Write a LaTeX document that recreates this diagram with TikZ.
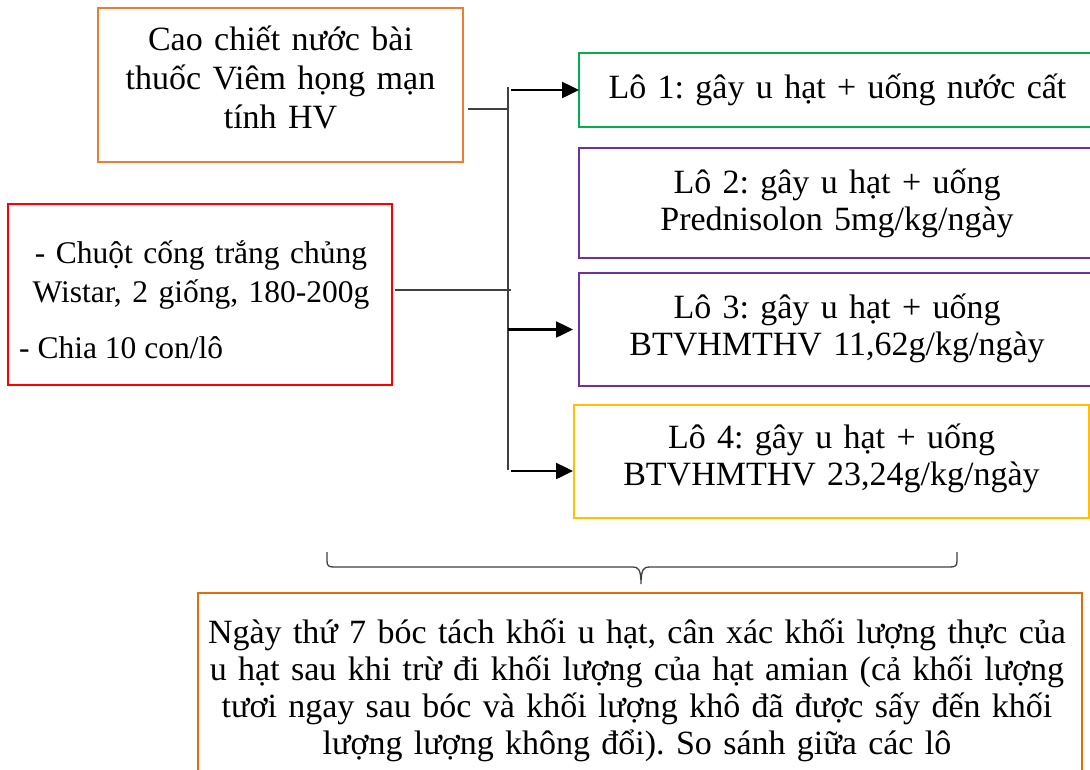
\documentclass[tikz,border=0pt]{standalone}
\usepackage{fontspec}
\setmainfont{Liberation Serif}
\usetikzlibrary{arrows.meta}

\definecolor{srcorange}{HTML}{ED7D31}
\definecolor{ratred}{HTML}{FF0000}
\definecolor{grpgreen}{HTML}{00B050}
\definecolor{grppurple}{HTML}{7030A0}
\definecolor{grpgold}{HTML}{FFC000}
\definecolor{endorange}{HTML}{E26B0A}
\definecolor{wire}{HTML}{404040}

\tikzset{
  frame/.style={draw, line width=1.4pt, inner sep=0pt, outer sep=0pt},
  txt/.style={inner sep=0pt, anchor=base, align=center,
              font=\fontsize{34}{37}\selectfont},
  wireline/.style={draw=wire, line width=1.3pt},
  arr/.style={draw=black, line width=2.5pt,
              -{Triangle[length=17pt, width=16pt]}},
}

\begin{document}
\frenchspacing
\begin{tikzpicture}[x=1pt, y=-1pt]
\useasboundingbox (0,0) rectangle (1090,769);
\fill[white] (0,0) rectangle (1090,769);
\clip (0,0) rectangle (1090,769);

% source boxes on the left
\node[frame, draw=srcorange, minimum width=365pt, minimum height=154pt] (cao) at (280.5,85) {};
\node[txt, text width=360pt, font=\fontsize{34}{39}\selectfont] (caotext) at (280.5,50)
  {Cao chiết nước bài\\thuốc Viêm họng mạn\\tính HV};

\node[frame, draw=ratred, minimum width=384pt, minimum height=181pt] (rat) at (200,294.5) {};
\node[txt, text width=380pt, font=\fontsize{31.5}{39}\selectfont] (rattext) at (201,263)
  {- Chuột cống trắng chủng\\Wistar, 2 giống, 180-200g};
\node[txt, anchor=base west, font=\fontsize{31.5}{39}\selectfont] (ratlot) at (19,358)
  {- Chia 10 con/lô};

% the four groups
\node[frame, draw=grpgreen, minimum width=517pt, minimum height=74pt] (lo1) at (837.5,90) {};
\node[txt, text width=500pt] (lo1text) at (837.5,98)
  {Lô 1: gây u hạt + uống nước cất};

\node[frame, draw=grppurple, minimum width=516pt, minimum height=110pt] (lo2) at (837,203) {};
\node[txt, text width=500pt] (lo2text) at (837,193)
  {Lô 2: gây u hạt + uống\\Prednisolon 5mg/kg/ngày};

\node[frame, draw=grppurple, minimum width=516pt, minimum height=113pt] (lo3) at (837,329.5) {};
\node[txt, text width=500pt] (lo3text) at (837,318)
  {Lô 3: gây u hạt + uống\\BTVHMTHV 11,62g/kg/ngày};

\node[frame, draw=grpgold, minimum width=515pt, minimum height=113pt] (lo4) at (831.5,461.5) {};
\node[txt, text width=500pt] (lo4text) at (831.5,448)
  {Lô 4: gây u hạt + uống\\BTVHMTHV 23,24g/kg/ngày};

% outcome box at the bottom
\node[frame, draw=endorange, minimum width=884pt, minimum height=200pt] (result) at (640,693) {};
\node[txt, text width=880pt] (resulttext) at (637,643)
  {Ngày thứ 7 bóc tách khối u hạt, cân xác khối lượng thực của\\
   u hạt sau khi trừ đi khối lượng của hạt amian (cả khối lượng\\
   tươi ngay sau bóc và khối lượng khô đã được sấy đến khối\\
   lượng lượng không đổi). So sánh giữa các lô};

% distribution bus
\coordinate (bustop) at (508,87);
\coordinate (busbot) at (508,470);
\draw[wireline] (bustop) -- (busbot);
\draw[wireline] ([xshift=5pt, yshift=-24pt]cao.east) -- ([yshift=-24pt]cao.east -| bustop);
\draw[wireline] ([xshift=3pt, yshift=4.5pt]rat.east) -- ([xshift=3pt, yshift=4.5pt]rat.east -| bustop);

\draw[arr] ([xshift=3pt]bustop |- lo1.west) -- (lo1.west);
\draw[arr] (bustop |- lo3.west) -- ([xshift=-6pt]lo3.west);
\coordinate (lo4in) at (573,471);
\draw[arr] ([xshift=3pt]bustop |- lo4in) -- (lo4in);

% brace gathering the groups
\coordinate (brl) at (327,552);
\coordinate (brr) at (957,552);
\coordinate (brtip) at (641,584);
\draw[wire, line width=1.3pt]
  (brl) -- (327,561) .. controls (327,566) and (329,567) .. (334,567)
  -- (633,567) .. controls (638,567) and (641,569) .. (brtip)
  .. controls (641,569) and (644,567) .. (649,567)
  -- (950,567) .. controls (955,567) and (957,566) .. (957,561) -- (brr);
\end{tikzpicture}
\end{document}
